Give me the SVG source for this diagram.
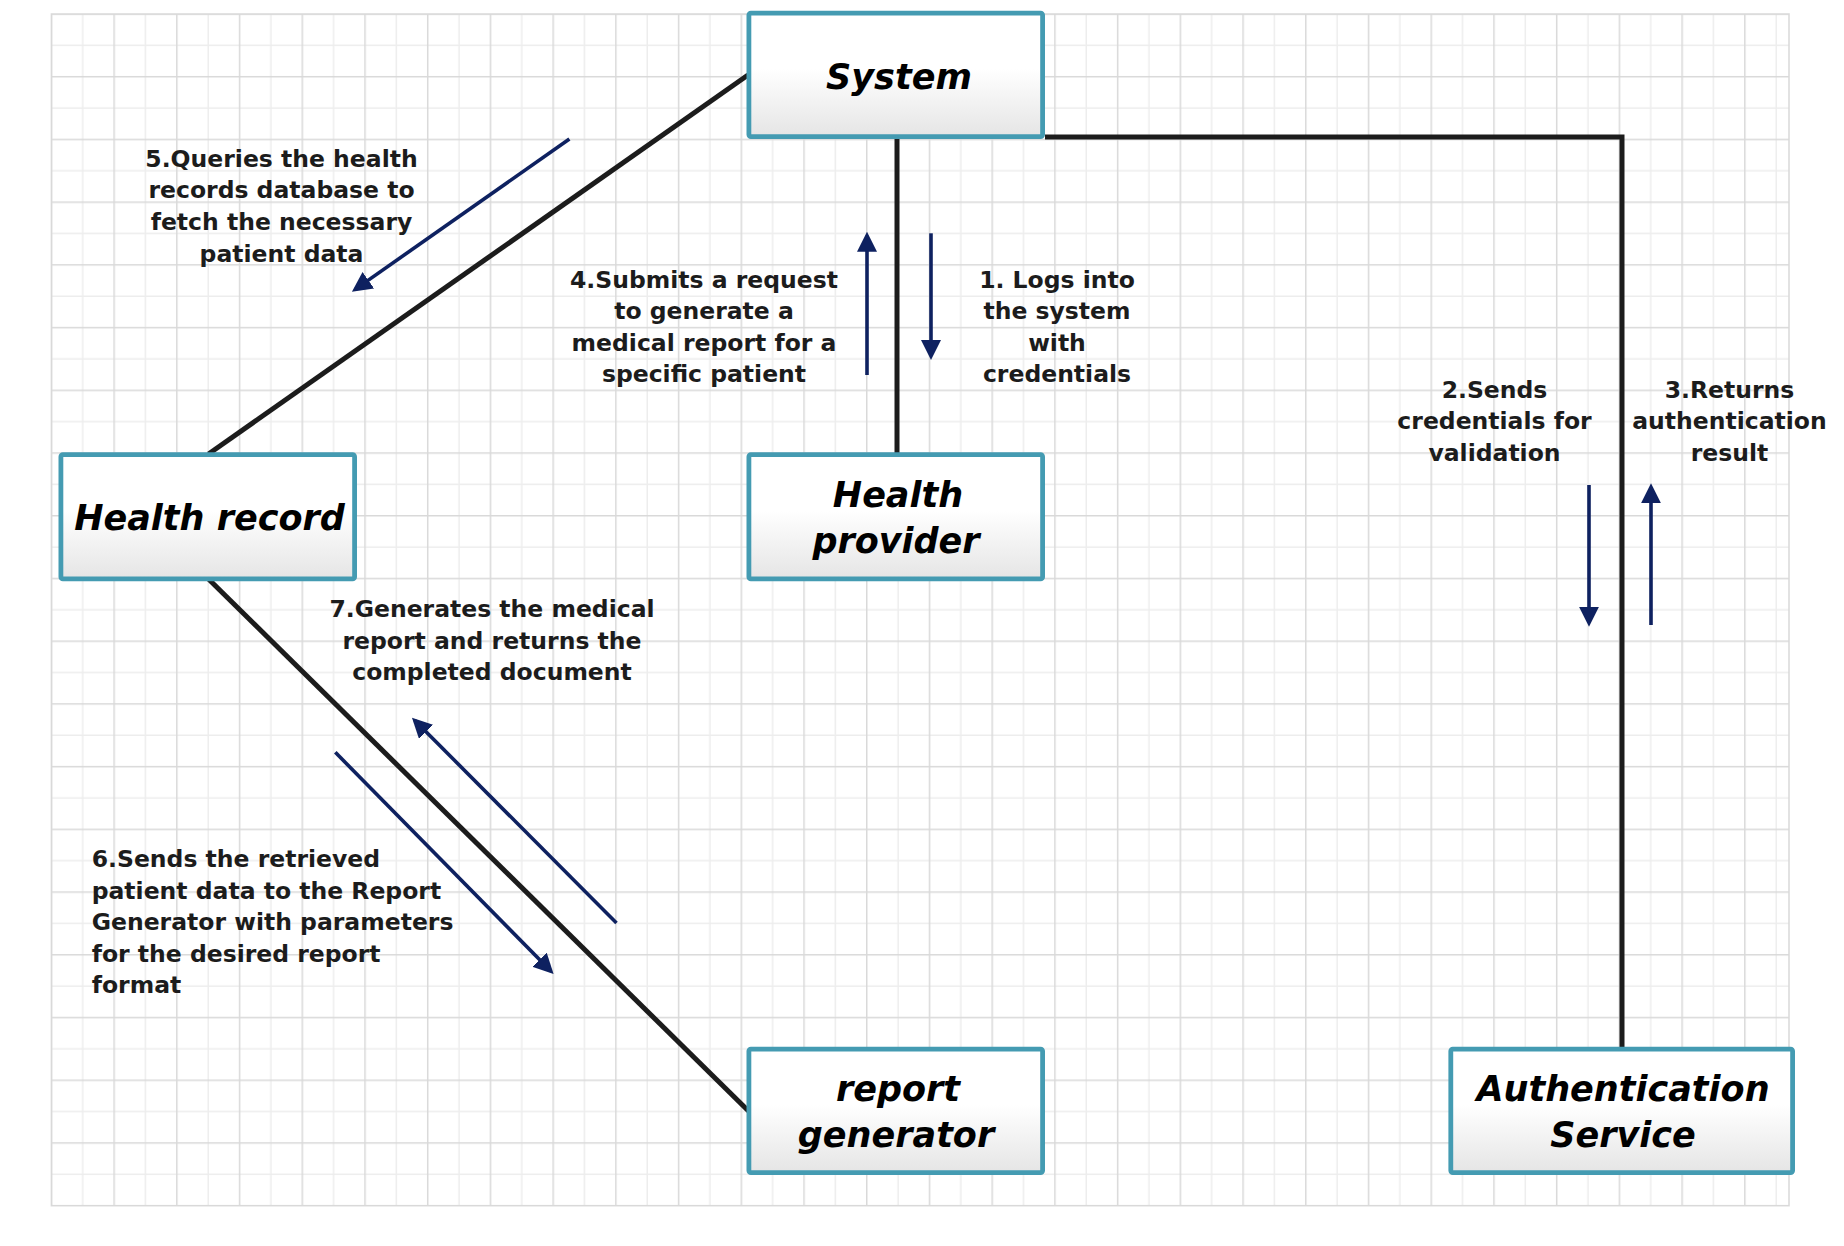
<svg xmlns="http://www.w3.org/2000/svg" width="1844" height="1246" viewBox="0 0 1844 1246">
  <defs>
    <pattern id="grid" patternUnits="userSpaceOnUse" x="35.72" y="-1.68" width="62.72" height="62.72">
      <line x1="0" y1="47.04" x2="62.72" y2="47.04" stroke="#ededed" stroke-width="1.5"/>
      <line x1="47.04" y1="0" x2="47.04" y2="62.72" stroke="#ededed" stroke-width="1.5"/>
      <line x1="0" y1="15.68" x2="62.72" y2="15.68" stroke="#d9d9d9" stroke-width="1.5"/>
      <line x1="15.68" y1="0" x2="15.68" y2="62.72" stroke="#d9d9d9" stroke-width="1.5"/>
    </pattern>
    <linearGradient id="boxfill" x1="0" y1="0" x2="0" y2="1">
      <stop offset="0" stop-color="#ffffff"/>
      <stop offset="0.45" stop-color="#ffffff"/>
      <stop offset="1" stop-color="#e5e5e5"/>
    </linearGradient>
    <marker id="arr" markerUnits="userSpaceOnUse" markerWidth="20" markerHeight="20" refX="16" refY="10" orient="auto">
      <path d="M0,0 L20,10 L0,20 z" fill="#0e2160"/>
    </marker>
    <style>
      .box { fill: url(#boxfill); stroke: #449bb2; stroke-width: 4.8; }
      .btxt { font-family: "DejaVu Sans", "Liberation Sans", sans-serif; font-size: 35px; font-weight: bold; font-style: italic; fill: #000; text-anchor: middle; }
      .lbl { font-family: "DejaVu Sans", "Liberation Sans", sans-serif; font-size: 23.5px; font-weight: bold; fill: #1c1c1c; text-anchor: middle; }
      .lblL { text-anchor: start; }
      .conn { fill: none; stroke: #1c1c1c; stroke-width: 5; }
      .msg { fill: none; stroke: #0e2160; stroke-width: 3.6; marker-end: url(#arr); }
    </style>
  </defs>

  <rect x="0" y="0" width="1844" height="1246" fill="#ffffff"/>
  <rect x="51.4" y="14" width="1737.6" height="1191.7" fill="url(#grid)" stroke="#d9d9d9" stroke-width="1.5"/>

  <g id="connectors">
    <line class="conn" x1="748" y1="75" x2="208.5" y2="454"/>
    <line class="conn" x1="897" y1="137" x2="897" y2="453"/>
    <path class="conn" d="M1045,137 H1622 V1047"/>
    <line class="conn" x1="208.5" y1="579" x2="748.5" y2="1111"/>
    <line class="msg" x1="569.4" y1="139" x2="355.2" y2="289.4"/>
    <line class="msg" x1="867" y1="375" x2="867" y2="235.7"/>
    <line class="msg" x1="931" y1="233.3" x2="931" y2="356"/>
    <line class="msg" x1="1589" y1="485" x2="1589" y2="622.7"/>
    <line class="msg" x1="1651" y1="625" x2="1651" y2="487.3"/>
    <line class="msg" x1="335.3" y1="752.3" x2="550.8" y2="971.1"/>
    <line class="msg" x1="616.5" y1="923" x2="414.8" y2="720.5"/>
  </g>

  <g id="node-system">
    <rect class="box" x="748.9" y="13.1" width="293.7" height="123.5" rx="2"/>
    <text class="btxt" x="899" y="89">System</text>
  </g>
  <g id="node-health-provider">
    <rect class="box" x="748.9" y="454.7" width="293.7" height="124.2" rx="2"/>
    <text class="btxt" x="898" y="506.7">Health</text>
    <text class="btxt" x="896" y="553.3">provider</text>
  </g>
  <g id="node-health-record">
    <rect class="box" x="60.9" y="454.7" width="293.7" height="124.2" rx="2"/>
    <text class="btxt" x="209.5" y="530">Health record</text>
  </g>
  <g id="node-report-generator">
    <rect class="box" x="748.9" y="1049.1" width="293.7" height="123.5" rx="2"/>
    <text class="btxt" x="898" y="1100.7">report</text>
    <text class="btxt" x="896" y="1146.7">generator</text>
  </g>
  <g id="node-auth-service">
    <rect class="box" x="1450.8" y="1049.1" width="341.8" height="123.5" rx="2"/>
    <text class="btxt" x="1623" y="1100.7">Authentication</text>
    <text class="btxt" x="1623" y="1147.3">Service</text>
  </g>

  <g id="labels">
    <text class="lbl" x="281.5" y="166.7">5.Queries the health</text>
    <text class="lbl" x="281.5" y="198.3">records database to</text>
    <text class="lbl" x="281.5" y="230">fetch the necessary</text>
    <text class="lbl" x="281.5" y="261.7">patient data</text>

    <text class="lbl" x="704" y="287.5">4.Submits a request</text>
    <text class="lbl" x="704" y="319">to generate a</text>
    <text class="lbl" x="704" y="350.7">medical report for a</text>
    <text class="lbl" x="704" y="382">specific patient</text>

    <text class="lbl" x="1057" y="287.5">1. Logs into</text>
    <text class="lbl" x="1057" y="319">the system</text>
    <text class="lbl" x="1057" y="350.7">with</text>
    <text class="lbl" x="1057" y="382">credentials</text>

    <text class="lbl" x="1494.5" y="397.5">2.Sends</text>
    <text class="lbl" x="1494.5" y="429">credentials for</text>
    <text class="lbl" x="1494.5" y="460.5">validation</text>

    <text class="lbl" x="1729.5" y="397.5">3.Returns</text>
    <text class="lbl" x="1729.5" y="429">authentication</text>
    <text class="lbl" x="1729.5" y="460.5">result</text>

    <text class="lbl" x="492" y="617">7.Generates the medical</text>
    <text class="lbl" x="492" y="648.5">report and returns the</text>
    <text class="lbl" x="492" y="680">completed document</text>

    <text class="lbl lblL" x="91.7" y="867">6.Sends the retrieved</text>
    <text class="lbl lblL" x="91.7" y="898.5">patient data to the Report</text>
    <text class="lbl lblL" x="91.7" y="930">Generator with parameters</text>
    <text class="lbl lblL" x="91.7" y="961.5">for the desired report</text>
    <text class="lbl lblL" x="91.7" y="993">format</text>
  </g>
</svg>
